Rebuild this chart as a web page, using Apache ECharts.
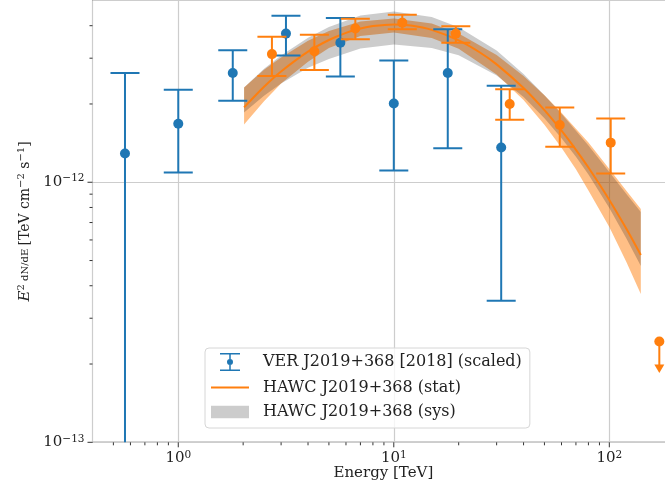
<!DOCTYPE html>
<html>
<head>
<meta charset="utf-8">
<script src="https://cdn.jsdelivr.net/npm/echarts@6/dist/echarts.min.js"></script>
<style>
  html, body { margin: 0; padding: 0; background: #fff; }
  #chart { width: 665px; height: 492px; }
</style>
</head>
<body>
<div id="chart"></div>
<script>
// VER J2019+368 [2018] (scaled): energy [TeV], E2 dN/dE [TeV cm-2 s-1]
const verE  = [0.566, 1.0, 1.79, 3.16, 5.65, 10.0, 17.8, 31.5];
const verF  = [1.29e-12, 1.68e-12, 2.63e-12, 3.73e-12, 3.44e-12, 2.01e-12, 2.63e-12, 1.36e-12];
const verLo = [5e-14, 1.09e-12, 2.06e-12, 3.07e-12, 2.55e-12, 1.11e-12, 1.35e-12, 3.50e-13];
const verHi = [2.63e-12, 2.27e-12, 3.22e-12, 4.37e-12, 4.28e-12, 2.94e-12, 3.88e-12, 2.35e-12];

// HAWC J2019+368 flux points
const hawcE  = [2.72, 4.28, 6.63, 10.95, 19.4, 34.5, 58.9, 101.5];
const hawcF  = [3.11e-12, 3.19e-12, 3.90e-12, 4.11e-12, 3.73e-12, 2.00e-12, 1.66e-12, 1.42e-12];
const hawcLo = [2.56e-12, 2.70e-12, 3.55e-12, 3.88e-12, 3.44e-12, 1.74e-12, 1.37e-12, 1.08e-12];
const hawcHi = [3.63e-12, 3.69e-12, 4.25e-12, 4.41e-12, 3.98e-12, 2.28e-12, 1.94e-12, 1.76e-12];

// HAWC upper limit
const ulE = [170.6];
const ulF = [2.44e-13];

// HAWC best fit (stat)
const fitE = [2.02, 2.5, 3, 4, 5, 6, 7, 8, 10, 12, 15, 20, 25, 30, 40, 50, 60, 70, 80, 100, 120, 140];
const fitF = [1.940e-12, 2.329e-12, 2.667e-12, 3.179e-12, 3.524e-12, 3.753e-12, 3.899e-12, 3.987e-12,
              4.045e-12, 4.006e-12, 3.855e-12, 3.513e-12, 3.162e-12, 2.840e-12, 2.303e-12, 1.893e-12,
              1.578e-12, 1.333e-12, 1.139e-12, 8.55e-13, 6.62e-13, 5.25e-13];

// bands (stat = orange, sys = grey)
const bandE  = [2.02, 2.5, 3, 4, 5, 7, 10, 15, 20, 30, 40, 50, 60, 70, 80, 100, 120, 140];
const statLo = [1.668e-12, 2.048e-12, 2.398e-12, 2.908e-12, 3.282e-12, 3.648e-12, 3.767e-12, 3.590e-12, 3.258e-12,
                2.599e-12, 2.070e-12, 1.664e-12, 1.357e-12, 1.121e-12, 9.29e-13, 6.73e-13, 4.94e-13, 3.72e-13];
const statHi = [2.315e-12, 2.706e-12, 3.018e-12, 3.503e-12, 3.816e-12, 4.149e-12, 4.266e-12, 4.083e-12, 3.737e-12,
                3.089e-12, 2.561e-12, 2.162e-12, 1.850e-12, 1.606e-12, 1.421e-12, 1.125e-12, 9.27e-13, 7.89e-13];
const sysLo  = [1.856e-12, 2.150e-12, 2.398e-12, 2.759e-12, 2.977e-12, 3.266e-12, 3.388e-12, 3.286e-12, 3.076e-12,
                2.576e-12, 2.126e-12, 1.763e-12, 1.477e-12, 1.253e-12, 1.070e-12, 7.96e-13, 6.08e-13, 4.76e-13];
const sysHi  = [2.315e-12, 2.730e-12, 3.072e-12, 3.597e-12, 3.954e-12, 4.375e-12, 4.537e-12, 4.325e-12, 3.942e-12,
                3.213e-12, 2.606e-12, 2.162e-12, 1.834e-12, 1.577e-12, 1.384e-12, 1.095e-12, 9.02e-13, 7.69e-13];

// axis ticks
const xMajor = [1, 10, 100];
const xMinor = [0.5, 0.6, 0.7, 0.8, 0.9, 2, 3, 4, 5, 6, 7, 8, 9, 20, 30, 40, 50, 60, 70, 80, 90];
const yMajor = [1e-13, 1e-12];
const yMinor = [2e-13, 3e-13, 4e-13, 5e-13, 6e-13, 7e-13, 8e-13, 9e-13, 2e-12, 3e-12, 4e-12];

const X_MIN = 0.4, X_MAX = 200, Y_MIN = 1e-13, Y_MAX = 5e-12;
const BLUE = '#1f77b4', ORANGE = '#ff7f0e';
const FONT = 'DejaVu Serif';

const VER_NAME = 'VER J2019+368 [2018] (scaled)';
const STAT_NAME = 'HAWC J2019+368 (stat)';
const SYS_NAME = 'HAWC J2019+368 (sys)';

function powLabel(v) {
  const e = Math.round(Math.log10(v));
  if (Math.abs(Math.log10(v) - e) > 1e-6) return '';
  return '{b|10}{s|' + String(e).replace('-', '\u2212') + '}';
}

const labelRich = {
  b: { fontFamily: FONT, fontSize: 15, lineHeight: 18, color: '#222' },
  s: { fontFamily: FONT, fontSize: 10.5, lineHeight: 11, verticalAlign: 'top', color: '#222' }
};

function bandRender(lo, hi, fill) {
  return function (params, api) {
    if (params.dataIndex !== 0) return null;
    const pts = [];
    for (let i = 0; i < bandE.length; i++) pts.push(api.coord([bandE[i], hi[i]]));
    for (let i = bandE.length - 1; i >= 0; i--) pts.push(api.coord([bandE[i], lo[i]]));
    return { type: 'polygon', shape: { points: pts }, style: { fill: fill } };
  };
}

function errRender(color) {
  return function (params, api) {
    const x = api.value(0);
    const lo = api.coord([x, api.value(1)]);
    const hi = api.coord([x, api.value(2)]);
    const w = 14.5;
    const st = { stroke: color, lineWidth: 2 };
    return {
      type: 'group',
      children: [
        { type: 'line', shape: { x1: lo[0], y1: lo[1], x2: hi[0], y2: hi[1] }, style: st },
        { type: 'line', shape: { x1: hi[0] - w, y1: hi[1], x2: hi[0] + w, y2: hi[1] }, style: st },
        { type: 'line', shape: { x1: lo[0] - w, y1: lo[1], x2: lo[0] + w, y2: lo[1] }, style: st }
      ]
    };
  };
}

function ulRender(params, api) {
  const p = api.coord([api.value(0), api.value(1)]);
  return {
    type: 'group',
    children: [
      { type: 'line', shape: { x1: p[0], y1: p[1], x2: p[0], y2: p[1] + 24 }, style: { stroke: ORANGE, lineWidth: 2 } },
      { type: 'polygon', shape: { points: [[p[0] - 5, p[1] + 23], [p[0] + 5, p[1] + 23], [p[0], p[1] + 31.5]] }, style: { fill: ORANGE } }
    ]
  };
}

function xTickRender(params, api) {
  const p = api.coord([api.value(0), Y_MIN]);
  const len = api.value(2) ? 5 : 3;
  return { type: 'line', shape: { x1: p[0], y1: p[1], x2: p[0], y2: p[1] + len }, style: { stroke: '#333', lineWidth: 1 } };
}
function yTickRender(params, api) {
  const p = api.coord([X_MIN, api.value(1)]);
  const len = api.value(2) ? 5 : 3;
  return { type: 'line', shape: { x1: p[0], y1: p[1], x2: p[0] - len, y2: p[1] }, style: { stroke: '#333', lineWidth: 1 } };
}

const errIcon = 'path://M0,0H20V1.5H0Z M0,16.5H20V18H0Z M9.25,1.5H10.75V6.2H9.25Z M9.25,11.8H10.75V16.5H9.25Z M13,9A3,3 0 1,1 7,9A3,3 0 1,1 13,9Z';

const chart = echarts.init(document.getElementById('chart'), null, { renderer: 'canvas' });
chart.setOption({
  backgroundColor: '#fff',
  animation: false,
  grid: {
    left: 92.5, top: 0.5, right: -9.2, bottom: 49.7,
    outerBoundsMode: 'none',
    show: true, borderColor: '#222', borderWidth: 1, backgroundColor: 'transparent'
  },
  legend: {
    orient: 'vertical',
    left: 205, top: 348,
    padding: [5, 8, 8, 6],
    itemWidth: 38, itemHeight: 18, itemGap: 8.5,
    backgroundColor: 'rgba(255,255,255,0.8)',
    borderColor: '#d6d6d6', borderWidth: 1, borderRadius: 4,
    textStyle: { fontFamily: FONT, fontSize: 16, color: '#222', padding: [0, 0, 0, 9] },
    data: [
      { name: VER_NAME, icon: errIcon },
      { name: STAT_NAME, icon: 'path://M0,0H38V2H0Z' },
      { name: SYS_NAME, icon: 'path://M0,0H37V12H0Z' }
    ]
  },
  xAxis: {
    type: 'log', logBase: 10, min: X_MIN, max: X_MAX,
    name: 'Energy [TeV]', nameLocation: 'middle', nameGap: 23, nameMoveOverlap: false,
    nameTextStyle: { fontFamily: FONT, fontSize: 15, color: '#222' },
    axisLine: { show: false },
    axisTick: { show: false },
    axisLabel: { margin: 7, formatter: powLabel, rich: labelRich },
    splitLine: { show: true, lineStyle: { color: '#cdcdcd', width: 1.2 } }
  },
  yAxis: {
    type: 'log', logBase: 10, min: Y_MIN, max: Y_MAX,
    name: '{i|E}{s|2}{f| dN/dE }{n|[TeV cm}{s|\u22122}{n| s}{s|\u22121}{n|]}',
    nameLocation: 'middle', nameGap: 58, nameRotate: 90, nameMoveOverlap: false,
    nameTextStyle: {
      color: '#222',
      rich: {
        i: { fontFamily: FONT, fontSize: 15, fontStyle: 'italic', lineHeight: 18 },
        n: { fontFamily: FONT, fontSize: 14, lineHeight: 18 },
        f: { fontFamily: FONT, fontSize: 10, lineHeight: 18 },
        s: { fontFamily: FONT, fontSize: 10, lineHeight: 11, verticalAlign: 'top' }
      }
    },
    axisLine: { show: false },
    axisTick: { show: false },
    axisLabel: { margin: 8, formatter: powLabel, rich: labelRich },
    splitLine: { show: true, lineStyle: { color: '#cdcdcd', width: 1.2 } }
  },
  series: [
    {
      name: 'stat band', type: 'custom', z: 1, clip: true, silent: true,
      renderItem: bandRender(statLo, statHi, 'rgba(255,127,14,0.5)'),
      data: bandE.map((e, i) => [e, statLo[i], statHi[i]]),
      encode: { x: 0, y: [1, 2] }
    },
    {
      name: SYS_NAME, type: 'custom', z: 2, clip: true, silent: true,
      itemStyle: { color: 'rgba(0,0,0,0.2)' },
      renderItem: bandRender(sysLo, sysHi, 'rgba(0,0,0,0.2)'),
      data: bandE.map((e, i) => [e, sysLo[i], sysHi[i]]),
      encode: { x: 0, y: [1, 2] }
    },
    {
      name: STAT_NAME, type: 'line', z: 3, smooth: 0.3, showSymbol: false, silent: true,
      itemStyle: { color: ORANGE },
      lineStyle: { color: ORANGE, width: 2 },
      data: fitE.map((e, i) => [e, fitF[i]])
    },
    {
      name: VER_NAME, type: 'custom', z: 4, clip: true, silent: true,
      itemStyle: { color: BLUE },
      renderItem: errRender(BLUE),
      data: verE.map((e, i) => [e, verLo[i], verHi[i]]),
      encode: { x: 0, y: [1, 2] }
    },
    {
      name: VER_NAME, type: 'scatter', z: 4, symbolSize: 10, silent: true,
      itemStyle: { color: BLUE, opacity: 1 },
      data: verE.map((e, i) => [e, verF[i]])
    },
    {
      name: 'HAWC points', type: 'custom', z: 5, clip: true, silent: true,
      renderItem: errRender(ORANGE),
      data: hawcE.map((e, i) => [e, hawcLo[i], hawcHi[i]]),
      encode: { x: 0, y: [1, 2] }
    },
    {
      name: 'HAWC points', type: 'scatter', z: 5, symbolSize: 10, silent: true,
      itemStyle: { color: ORANGE, opacity: 1 },
      data: hawcE.map((e, i) => [e, hawcF[i]]).concat(ulE.map((e, i) => [e, ulF[i]]))
    },
    {
      name: 'HAWC UL', type: 'custom', z: 5, silent: true,
      renderItem: ulRender,
      data: ulE.map((e, i) => [e, ulF[i]]),
      encode: { x: 0, y: 1 }
    },
    {
      name: 'x ticks', type: 'custom', z: 6, silent: true,
      renderItem: xTickRender,
      data: xMajor.map(v => [v, Y_MIN, 1]).concat(xMinor.map(v => [v, Y_MIN, 0])),
      encode: { x: 0, y: 1 }
    },
    {
      name: 'y ticks', type: 'custom', z: 6, silent: true,
      renderItem: yTickRender,
      data: yMajor.map(v => [X_MIN, v, 1]).concat(yMinor.map(v => [X_MIN, v, 0])),
      encode: { x: 0, y: 1 }
    }
  ]
});
</script>
</body>
</html>
